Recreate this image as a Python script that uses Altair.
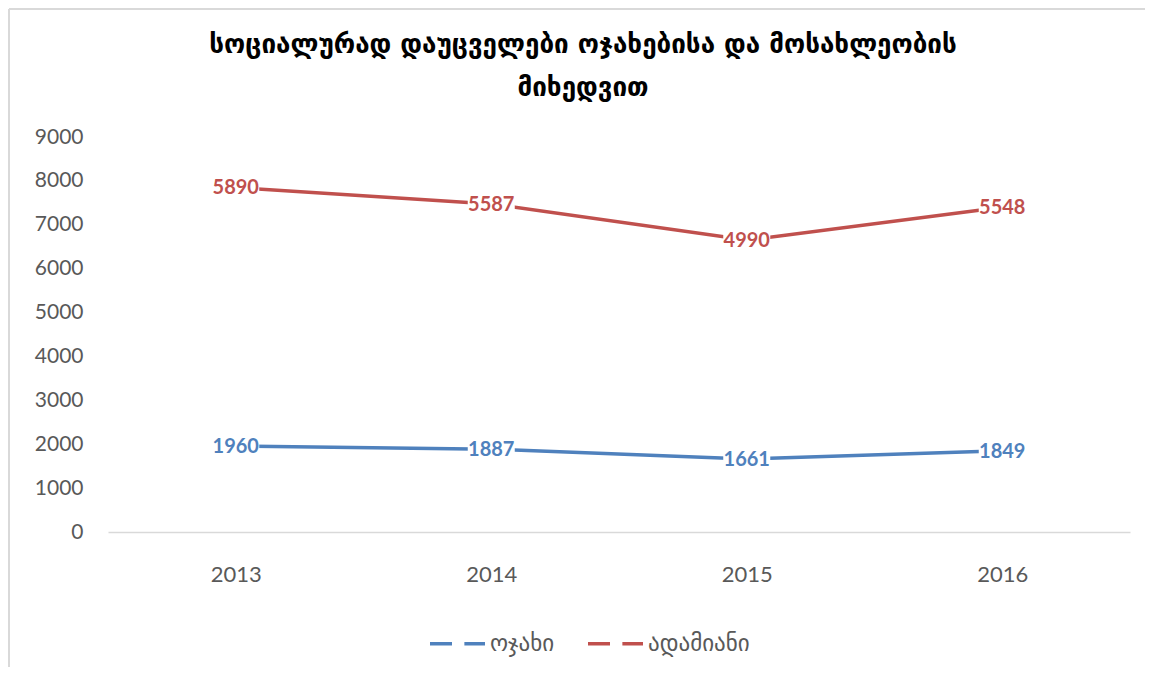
import altair as alt
import pandas as pd

years = ["2013", "2014", "2015", "2016"]
series = ["ოჯახი", "ადამიანი"]
households = [1960, 1887, 1661, 1849]
people = [5890, 5587, 4990, 5548]
colors = ["#4F81BD", "#C0504D"]
title_lines = ["სოციალურად დაუცველები ოჯახებისა და მოსახლეობის", "მიხედვით"]

rows = []
for i, y in enumerate(years):
    rows.append({"year": y, "series": series[0], "value": households[i], "order": 0})
    rows.append({"year": y, "series": series[1], "value": people[i], "order": 1})
df = pd.DataFrame(rows)
df = df.sort_values(["year", "order"])
df["pos"] = df.groupby("year")["value"].cumsum()

W, H = 1022, 395
PAD_L, PAD_T = 100, 129

x = alt.X("year:N", scale=alt.Scale(domain=years, paddingInner=0, paddingOuter=0.5),
          axis=alt.Axis(title=None, labelAngle=0, ticks=False, domainColor="#d9d9d9",
                        domainWidth=1.5, labelPadding=32, labelFont="Lato",
                        labelFontSize=22, labelColor="#595959", grid=False))
y = alt.Y("pos:Q", scale=alt.Scale(domain=[0, 9000], nice=False),
          axis=alt.Axis(title=None, ticks=False, domain=False, grid=False, format="d",
                        values=list(range(0, 9001, 1000)), labelPadding=25,
                        labelFont="Lato", labelFontSize=21, labelColor="#595959"))
color = alt.Color("series:N", scale=alt.Scale(domain=series, range=colors),
                  legend=alt.Legend(title=None, orient="none", direction="horizontal",
                                    legendX=320, legendY=477,
                                    symbolType="M-1,0L-0.2,0M0.25,0L1,0",
                                    symbolSize=3025, symbolStrokeWidth=3.5,
                                    labelFont="DejaVu Sans", labelFontSize=23,
                                    labelColor="#595959", labelOffset=3,
                                    columnPadding=26))

base = alt.Chart(df)
lines = base.mark_line(strokeWidth=3.5).encode(x=x, y=y, color=color, detail="series:N")
boxes = base.mark_point(shape="M-1,-0.4L1,-0.4L1,0.4L-1,0.4Z", filled=True, fill="white",
                        opacity=1, size=2209, strokeWidth=0).encode(x=x, y=y)
labels = base.mark_text(font="Lato", fontWeight="bold", fontSize=20, baseline="middle",
                        align="center", dy=1).encode(
    x=x, y=y, text="value:Q",
    color=alt.Color("series:N", scale=alt.Scale(domain=series, range=colors), legend=None))

one = pd.DataFrame({"a": [0]})
frame_left = alt.Chart(one).mark_rule(color="#d9d9d9", strokeWidth=2).encode(
    x=alt.value(-99), y=alt.value(-128), y2=alt.value(H + 135))
frame_top = alt.Chart(one).mark_rule(color="#d9d9d9", strokeWidth=2).encode(
    x=alt.value(-99), x2=alt.value(W + 15), y=alt.value(-128))

title_style = dict(font="DejaVu Sans", fontWeight="bold", fontSize=26, color="black",
                   align="center", baseline="alphabetic")
title1 = alt.Chart(one).mark_text(**title_style).encode(
    x=alt.value(475), y=alt.value(-84), text=alt.value(title_lines[0]))
title2 = alt.Chart(one).mark_text(**title_style).encode(
    x=alt.value(475), y=alt.value(-41), text=alt.value(title_lines[1]))

chart = alt.layer(frame_left, frame_top, title1, title2, lines, boxes, labels).properties(
    width=W, height=H,
    autosize=alt.AutoSizeParams(type="none"),
    padding={"left": PAD_L, "top": PAD_T, "right": 15, "bottom": 135},
).configure_view(stroke=None)

chart.save("out.html", embed_options={"renderer": "svg", "actions": False})
